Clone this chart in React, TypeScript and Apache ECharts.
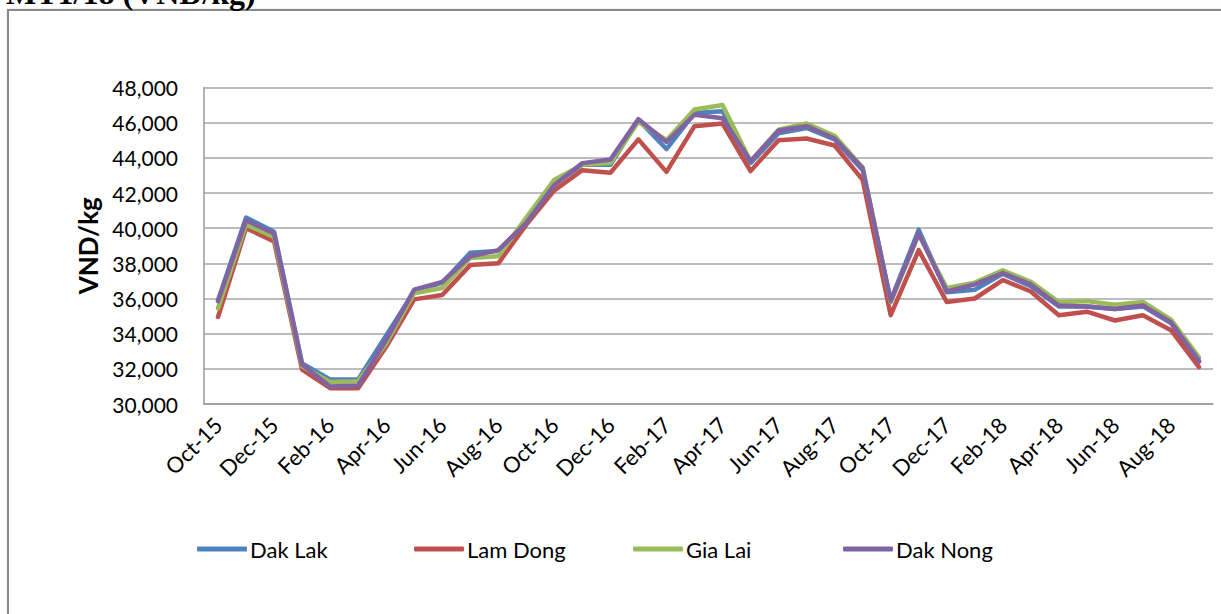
import React, { useEffect, useRef } from "react";
import * as echarts from "echarts";

const months = ["Oct-15","Nov-15","Dec-15","Jan-16","Feb-16","Mar-16","Apr-16","May-16","Jun-16","Jul-16","Aug-16","Sep-16","Oct-16","Nov-16","Dec-16","Jan-17","Feb-17","Mar-17","Apr-17","May-17","Jun-17","Jul-17","Aug-17","Sep-17","Oct-17","Nov-17","Dec-17","Jan-18","Feb-18","Mar-18","Apr-18","May-18","Jun-18","Jul-18","Aug-18","Sep-18"];

const dakLak = [35900,40600,39800,32300,31400,31400,33900,36400,36900,38600,38700,40300,42500,43600,43600,46150,44500,46550,46650,43700,45400,45700,45050,43300,35900,39900,36350,36500,37400,36700,35550,35550,35400,35550,34600,32400];
const lamDong = [34950,40000,39250,31950,30900,30900,33250,35950,36200,37900,38000,40200,42150,43300,43150,45050,43200,45800,45950,43250,45000,45100,44700,42750,35050,38750,35800,36000,37050,36400,35050,35250,34750,35050,34200,32100];
const giaLai = [35450,40200,39500,32150,31250,31300,33450,36300,36600,38300,38400,40600,42750,43600,43700,46050,45000,46750,47000,43800,45600,45950,45250,43450,35800,39650,36600,36900,37600,36950,35800,35850,35650,35800,34800,32650];
const dakNong = [35850,40450,39700,32250,31000,31050,33650,36500,36950,38400,38750,40300,42450,43700,43900,46200,44900,46450,46250,43800,45550,45800,45100,43400,35850,39700,36400,36800,37450,36800,35600,35550,35400,35600,34650,32450];

const seriesNames = ["Dak Lak", "Lam Dong", "Gia Lai", "Dak Nong"];
const seriesColors = ["#4F81BD", "#C0504D", "#9BBB59", "#8064A2"];
const seriesData = [dakLak, lamDong, giaLai, dakNong];
const legendLefts = [192, 409, 628, 838];

const FONT = "Lato, 'Open Sans', sans-serif";

export default function App() {
  const ref = useRef<HTMLDivElement>(null);
  useEffect(() => {
    if (!ref.current) return;
    const chart = echarts.init(ref.current, undefined, { renderer: "svg" });
    chart.setOption({
      animation: false,
      backgroundColor: "#ffffff",
      graphic: [
        {
          type: "rect",
          shape: { x: 8, y: 10, width: 1240, height: 640 },
          style: { fill: "#ffffff", stroke: "#8a8a8a", lineWidth: 2, shadowColor: "rgba(0,0,0,0.35)", shadowBlur: 3, shadowOffsetX: 1, shadowOffsetY: 1 },
          z: -10,
          silent: true,
        },
        {
          type: "text",
          x: 6,
          y: 9,
          style: {
            text: "MT1/18 (VND/kg)",
            font: "bold 32px 'Liberation Serif', 'DejaVu Serif', serif",
            fill: "#000000",
            verticalAlign: "bottom",
            align: "left",
          },
          z: 10,
        },
      ],
      legend: seriesNames.map((n, i) => ({
        data: [n],
        left: legendLefts[i],
        top: 533,
        orient: "horizontal",
        icon: "roundRect",
        itemWidth: 50,
        itemHeight: 5,
        itemGap: 0,
        textStyle: { fontFamily: FONT, fontSize: 22, color: "#000000", padding: [0, 0, 0, -2] },
      })),
      grid: { left: 204, right: 8, top: 87.5, bottom: 210, containLabel: false },
      xAxis: {
        type: "category",
        data: months,
        boundaryGap: true,
        axisLine: { show: true, lineStyle: { color: "#9a9a9a", width: 1.5 } },
        axisTick: { show: false },
        axisLabel: {
          interval: 1,
          rotate: 45,
          margin: 17,
          fontFamily: FONT,
          fontSize: 22,
          color: "#000000",
        },
        splitLine: { show: false },
      },
      yAxis: {
        type: "value",
        min: 30000,
        max: 48000,
        interval: 2000,
        name: "VND/kg",
        nameLocation: "middle",
        nameGap: 100,
        nameRotate: 90,
        nameTextStyle: { fontFamily: FONT, fontSize: 26, fontWeight: "bold", color: "#000000" },
        axisLine: { show: true, lineStyle: { color: "#9a9a9a", width: 1.5 } },
        axisTick: { show: false },
        axisLabel: {
          margin: 26,
          fontFamily: FONT,
          fontSize: 21,
          color: "#000000",
          formatter: (v: number) => v.toLocaleString("en-US"),
        },
        splitLine: { show: true, lineStyle: { color: "#a6a6a6", width: 1.5 } },
      },
      series: seriesNames.map((n, i) => ({
        name: n,
        type: "line",
        data: seriesData[i],
        symbol: "none",
        lineStyle: { color: seriesColors[i], width: 4.5, cap: "round", join: "round" },
        itemStyle: { color: seriesColors[i] },
      })),
    });
    return () => chart.dispose();
  }, []);
  return (
    <div
      ref={ref}
      style={{ position: "fixed", left: 0, top: 0, width: 1221, height: 614 }}
    />
  );
}
